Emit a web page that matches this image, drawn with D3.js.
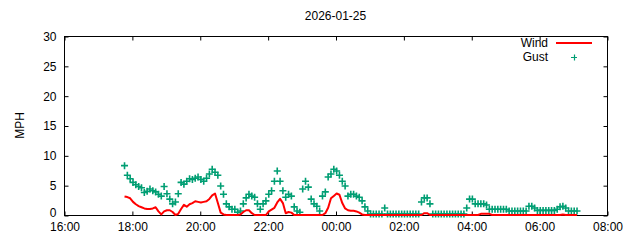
<!DOCTYPE html>
<html>
<head>
<meta charset="utf-8">
<script src="https://cdn.jsdelivr.net/npm/d3@7"></script>
<style>
  body { margin: 0; background: #fff; }
  svg { display: block; font-family: "Liberation Sans", Arial, sans-serif; }
</style>
</head>
<body>
<svg id="chart" width="640" height="240"></svg>
<script>
// title and axes
const title = "2026-01-25";
const yLabel = "MPH";
const yTicks = [0, 5, 10, 15, 20, 25, 30];
const xStart = new Date(2026, 0, 25, 16, 0);
const xEnd = new Date(2026, 0, 26, 8, 0);

// readings every 5 minutes starting at 17:47
const firstReading = new Date(2026, 0, 25, 17, 47);
const stepMinutes = 5;

const wind = [
  3.1, 3.0, 2.8, 2.2, 1.8, 1.5, 1.3, 1.1, 1.0, 1.0,
  1.1, 1.3, 0.6, 0.1, 0.6, 0.8, 0.8, 0.5, 0, 0.2,
  1.0, 1.7, 1.4, 1.8, 2.0, 2.3, 2.2, 2.1, 2.2, 2.3,
  2.7, 3.3, 3.6, 2.0, 0.4, 0.1, 0, 0, 0, 0,
  0, 0.1, 0.5, 0.8, 0.8, 0.3, 0, 0, 0, 0,
  0, 0.6, 0.9, 1.2, 2.1, 2.7, 2.0, 0.3, 0.5, 0.4,
  0, 0, 0, 0, 0, 0, 0, 0, 0, 0,
  0, 0.3, 1.2, 2.8, 3.2, 3.6, 3.4, 2.0, 1.1, 0.8,
  0.7, 0.7, 0.6, 0.4, 0.1, 0, 0, 0, 0, 0,
  0, 0, 0, 0, 0, 0, 0, 0, 0, 0,
  0, 0, 0, 0, 0, 0, 0.3, 0.3, 0, 0,
  0, 0, 0, 0, 0, 0, 0, 0, 0, 0,
  0, 0, 0, 0, 0, 0, 0.2, 0.2, 0.2, 0.2,
  0, 0, 0, 0, 0, 0, 0, 0, 0, 0,
  0, 0, 0, 0, 0, 0, 0, 0, 0, 0,
  0, 0, 0, 0, 0, 0.1, 0, 0, 0, 0,
  0
];

const gust = [
  8.1, 6.5, 5.9, 5.3, 4.9, 4.6, 4.4, 3.6, 3.8, 4.2,
  3.9, 3.7, 3.3, 3.0, 4.6, 3.4, 2.5, 1.7, 2.0, 3.4,
  5.3, 5.0, 5.5, 5.9, 5.8, 6.0, 6.2, 5.8, 5.5, 6.0,
  6.7, 7.5, 7.0, 6.5, 4.7, 3.3, 1.7, 1.2, 0.8, 0.8,
  0.3, 0.5, 1.7, 2.7, 3.3, 3.0, 2.8, 1.7, 0.8, 1.7,
  2.2, 3.3, 3.9, 5.5, 7.2, 5.5, 3.9, 2.8, 3.3, 3.0,
  1.2, 0.5, 0.3, 4.2, 5.5, 4.5, 2.5, 1.7, 1.3, 0.5,
  3.0, 3.7, 6.2, 6.7, 7.5, 7.2, 6.5, 5.5, 4.7, 3.0,
  3.3, 3.3, 3.0, 2.8, 2.2, 1.2, 0.5, 0, 0, 0,
  0, 0, 1.0, 0, 0, 0, 0, 0, 0, 0,
  0, 0, 0, 0, 0, 2.0, 2.7, 2.7, 1.7, 0,
  0, 0, 0, 0, 0, 0, 0, 0, 0, 0,
  0, 1.0, 2.5, 2.5, 1.7, 1.7, 1.7, 1.7, 1.5, 0.8,
  0.8, 0.8, 0.8, 0.8, 0.8, 0.8, 0.5, 0.5, 0.5, 0.5,
  0.5, 0.5, 0.5, 1.3, 1.3, 1.0, 0.6, 0.6, 0.6, 0.6,
  0.6, 0.6, 0.6, 0.8, 1.2, 1.3, 1.0, 0.5, 0.5, 0.5,
  0.5
];

const seriesNames = ["Wind", "Gust"];
const windColor = "#ff0000";
const gustColor = "#009e73";

const times = wind.map((_, i) => d3.timeMinute.offset(firstReading, i * stepMinutes));

const svg = d3.select("#chart");
const margin = { left: 64, right: 33, top: 36, bottom: 25 };
const width = 640, height = 240;

const x = d3.scaleTime()
    .domain([xStart, xEnd])
    .range([margin.left, width - margin.right]);

const y = d3.scaleLinear()
    .domain([0, 30])
    .range([height - margin.bottom, margin.top]);

const tickLen = 4;

// frame
svg.append("rect")
    .attr("x", margin.left + 0.5)
    .attr("y", margin.top + 0.5)
    .attr("width", x.range()[1] - margin.left)
    .attr("height", y.range()[0] - margin.top)
    .attr("fill", "none")
    .attr("stroke", "#000")
    .attr("stroke-width", 1);

// y axis (ticks inward, mirrored on the right)
const yAxis = d3.axisLeft(y).tickValues(yTicks).tickSize(-tickLen).tickPadding(8);
const gy = svg.append("g")
    .attr("transform", `translate(${margin.left + 0.5},0.5)`)
    .call(yAxis);
gy.select(".domain").remove();
gy.selectAll("text").attr("font-size", 12).attr("fill", "#000").attr("font-family", "Liberation Sans, Arial, sans-serif");
// gnuplot puts the 0 label a little higher than its tick
gy.selectAll("text").filter(d => d === 0).attr("dy", "0.1em");

const gyr = svg.append("g")
    .attr("transform", `translate(${x.range()[1] + 0.5},0.5)`)
    .call(d3.axisRight(y).tickValues(yTicks).tickSize(-tickLen).tickFormat(""));
gyr.select(".domain").remove();

// x axis (ticks inward, mirrored on top)
const xTicks = d3.timeHour.every(2).range(xStart, d3.timeMinute.offset(xEnd, 1));
const xAxis = d3.axisBottom(x).tickValues(xTicks).tickFormat(d3.timeFormat("%H:%M")).tickSize(-tickLen).tickPadding(7);
const gx = svg.append("g")
    .attr("transform", `translate(0.5,${y.range()[0] + 0.5})`)
    .call(xAxis);
gx.select(".domain").remove();
gx.selectAll("text").attr("font-size", 12).attr("fill", "#000").attr("font-family", "Liberation Sans, Arial, sans-serif");

const gxt = svg.append("g")
    .attr("transform", `translate(0.5,${margin.top + 0.5})`)
    .call(d3.axisTop(x).tickValues(xTicks).tickSize(-tickLen).tickFormat(""));
gxt.select(".domain").remove();

// title and y label
svg.append("text")
    .attr("x", (margin.left + x.range()[1]) / 2)
    .attr("y", 20)
    .attr("text-anchor", "middle")
    .attr("font-size", 12)
    .text(title);

svg.append("text")
    .attr("transform", `translate(24,${(margin.top + y.range()[0]) / 2}) rotate(-90)`)
    .attr("text-anchor", "middle")
    .attr("font-size", 12)
    .text(yLabel);

// gust points as "+" markers
const plus = 3.5;
const gustG = svg.append("g").attr("stroke", gustColor).attr("stroke-width", 1.6);
gustG.selectAll("path")
    .data(gust)
    .enter().append("path")
    .attr("d", (d, i) => {
        const px = x(times[i]), py = y(d) - 1;
        return `M${px - plus},${py}H${px + plus}M${px},${py - plus}V${py + plus}`;
    });

// wind line
const line = d3.line()
    .x((d, i) => x(times[i]))
    .y(d => y(d));

svg.append("path")
    .datum(wind)
    .attr("fill", "none")
    .attr("stroke", windColor)
    .attr("stroke-width", 2)
    .attr("stroke-linejoin", "round")
    .attr("d", line);

// legend
const legendX = 548;
const legend = svg.append("g");
legend.append("text")
    .attr("x", legendX).attr("y", 47)
    .attr("text-anchor", "end").attr("font-size", 12)
    .text(seriesNames[0]);
legend.append("line")
    .attr("x1", 556).attr("x2", 592)
    .attr("y1", 43).attr("y2", 43)
    .attr("stroke", windColor).attr("stroke-width", 2);
legend.append("text")
    .attr("x", legendX).attr("y", 61)
    .attr("text-anchor", "end").attr("font-size", 12)
    .text(seriesNames[1]);
legend.append("path")
    .attr("d", `M${574 - 3},57.5H${574 + 3}M574.5,${57.5 - 3}V${57.5 + 3}`)
    .attr("stroke", gustColor).attr("stroke-width", 1.2);
</script>
</body>
</html>
